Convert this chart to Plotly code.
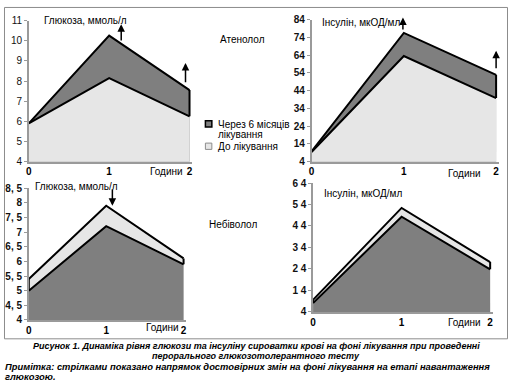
import plotly.graph_objects as go

W, H = 510, 386

# ---------------- data ----------------
hours = [0, 1, 2]
x_tick_labels = ["0", "1", "2"]

gl_aten_before = [5.9, 8.15, 6.25]
gl_aten_after = [5.9, 10.25, 7.55]
ins_aten_before = [9.5, 63.5, 39.8]
ins_aten_after = [9.8, 76.5, 52.9]
gl_nebi_before = [5.4, 7.9, 6.1]
gl_nebi_after = [5.0, 7.2, 5.9]
ins_nebi_before = [9.6, 52.4, 27.2]
ins_nebi_after = [8.1, 48.3, 23.8]

gl_aten_ticks = [4, 5, 6, 7, 8, 9, 10, 11]
gl_aten_ticktext = ["4", "5", "6", "7", "8", "9", "10", "11"]
ins_aten_ticks = [4, 14, 24, 34, 44, 54, 64, 74, 84]
ins_aten_ticktext = ["4", "14", "24", "34", "44", "54", "64", "74", "84"]
gl_nebi_ticks = [4, 4.5, 5, 5.5, 6, 6.5, 7, 7.5, 8, 8.5]
gl_nebi_ticktext = ["4", "4, 5", "5", "5, 5", "6", "6, 5", "7", "7, 5", "8", "8, 5"]
ins_nebi_ticks = [4, 14, 24, 34, 44, 54, 64]
ins_nebi_ticktext = ["4", "1 4", "2 4", "3 4", "4 4", "5 4", "6 4"]

DARK = "#7f7f7f"
LIGHT = "#e6e6e6"
AXC = "#9a9a9a"
FONT = "Arial, Liberation Sans, sans-serif"


def px(x):
    return x / W


def py(y):
    return 1 - y / H


XR = 2.03  # small extra room so the right edge line is not clipped

panels = [
    dict(b=gl_aten_before, a=gl_aten_after, tv=gl_aten_ticks, tt=gl_aten_ticktext,
         yr=[4, 11], x0=26, x2=188, yt=15, yb=160.7, bold=False),
    dict(b=ins_aten_before, a=ins_aten_after, tv=ins_aten_ticks, tt=ins_aten_ticktext,
         yr=[4, 84], x0=311, x2=497, yt=14, yb=160.7, bold=True),
    dict(b=gl_nebi_before, a=gl_nebi_after, tv=gl_nebi_ticks, tt=gl_nebi_ticktext,
         yr=[4, 8.5], x0=26, x2=182, yt=188, yb=324, bold=True),
    dict(b=ins_nebi_before, a=ins_nebi_after, tv=ins_nebi_ticks, tt=ins_nebi_ticktext,
         yr=[4, 64], x0=312.5, x2=491, yt=182.7, yb=315.7, bold=True),
]

fig = go.Figure()
layout_axes = {}

for i, p in enumerate(panels):
    k = "" if i == 0 else str(i + 1)
    xa, ya = "x" + k, "y" + k
    series = [(p["a"], DARK), (p["b"], LIGHT)]
    if max(p["b"]) > max(p["a"]):
        series = [(p["b"], LIGHT), (p["a"], DARK)]
    for vals, col in series:
        fig.add_trace(go.Scatter(
            x=hours, y=vals, mode="lines", fill="tozeroy", fillcolor=col,
            line=dict(color="black", width=2), xaxis=xa, yaxis=ya,
            showlegend=False, hoverinfo="skip"))
    fig.add_trace(go.Scatter(
        x=[hours[0], hours[0], None, hours[-1], hours[-1]],
        y=[p["b"][0], p["a"][0], None, p["b"][-1], p["a"][-1]],
        mode="lines", line=dict(color="black", width=2),
        xaxis=xa, yaxis=ya, showlegend=False, hoverinfo="skip"))

    x0, x2 = p["x0"], p["x2"]
    xend = x0 + (x2 - x0) * XR / 2
    layout_axes["xaxis" + k] = dict(
        domain=[px(x0), px(xend)], range=[0, XR], anchor=ya,
        tickvals=hours, ticktext=["<b>%s</b>" % t for t in x_tick_labels],
        tickfont=dict(size=10, color="black", family=FONT),
        showline=True, linecolor=AXC, linewidth=1.5, ticks="", showgrid=False,
        zeroline=False, fixedrange=True)
    layout_axes["yaxis" + k] = dict(
        domain=[py(p["yb"]), py(p["yt"])], range=p["yr"], anchor=xa,
        tickvals=p["tv"],
        ticktext=[("<b>%s</b>" % t) if p["bold"] else t for t in p["tt"]],
        tickfont=dict(size=10, color="#111", family=FONT),
        showline=True, linecolor=AXC, linewidth=1.5, ticks="outside", ticklen=3,
        tickcolor=AXC, tickwidth=1, showgrid=False, zeroline=False, fixedrange=True)

fig.update_layout(**layout_axes)

ann = []


def txt(x, y, s, size=10, anchor="left", bold=False, italic=False, align="left"):
    if bold:
        s = "<b>%s</b>" % s
    if italic:
        s = "<i>%s</i>" % s
    ann.append(dict(x=px(x), y=py(y), xref="paper", yref="paper", text=s,
                    showarrow=False, xanchor=anchor, yanchor="middle", align=align,
                    font=dict(size=size, color="black", family=FONT)))


txt(39, 15, "Глюкоза, ммоль/л")
txt(217, 35, "Атенолол")
txt(320, 17, "Інсулін, мкОД/мл")
txt(30, 186, "Глюкоза, ммоль/л")
txt(206, 225, "Небіволол")
txt(322, 194, "Інсулін, мкОД/мл")
txt(146, 171, "Години")
txt(447, 173, "Години")
txt(142, 332, "Години")
txt(446, 327, "Години")

txt(215, 122, "Через 6 місяців")
txt(215, 133, "лікування")
txt(215, 145, "До лікування")

txt(255, 351, "Рисунок 1. Динаміка рівня глюкози та інсуліну сироватки крові на фоні лікування при проведенні",
    size=9, anchor="center", bold=True, italic=True, align="center")
txt(255, 361.5, "перорального глюкозотолерантного тесту", size=9, anchor="center", bold=True, italic=True,
    align="center")
txt(0, 372.5, "Примітка: стрілками показано напрямок достовірних змін на фоні лікування на етапі навантаження",
    size=9.4, bold=True, italic=True)
txt(0, 382.5, "глюкозою.", size=9.4, bold=True, italic=True)


def arrow(xa, ya, x, y_from, y_to):
    ann.append(dict(x=x, y=y_to, ax=x, ay=y_from, xref=xa, yref=ya, axref=xa, ayref=ya,
                    showarrow=True, arrowhead=2, arrowsize=1, arrowwidth=1.5,
                    arrowcolor="black", text=""))


arrow("x", "y", 1.15, 9.93, 10.82)
arrow("x", "y", 1.95, 7.87, 8.9)
arrow("x2", "y2", 0.99, 77.5, 85.2)
arrow("x2", "y2", 2.0, 55.8, 66.5)
arrow("x3", "y3", 1.08, 8.5, 7.9)

shapes = [
    dict(type="rect", xref="paper", yref="paper", x0=px(1.5), x1=px(508.5), y0=py(343.5), y1=py(1.5),
         line=dict(color="#8c8c8c", width=1), fillcolor="rgba(0,0,0,0)"),
    dict(type="rect", xref="paper", yref="paper", x0=px(204), x1=px(210.5), y0=py(125), y1=py(118.5),
         line=dict(color="black", width=1.5), fillcolor=DARK),
    dict(type="rect", xref="paper", yref="paper", x0=px(204), x1=px(210.5), y0=py(148), y1=py(141.5),
         line=dict(color="#8c8c8c", width=1), fillcolor=LIGHT),
]

fig.update_layout(
    width=W, height=H, margin=dict(l=0, r=0, t=0, b=0),
    paper_bgcolor="white", plot_bgcolor="rgba(0,0,0,0)",
    showlegend=False, annotations=ann, shapes=shapes,
    font=dict(family=FONT, color="black"),
)

fig.write_html("out.html", config={"displayModeBar": False},
               post_script="document.body.style.margin='0';document.body.style.overflow='hidden';")
